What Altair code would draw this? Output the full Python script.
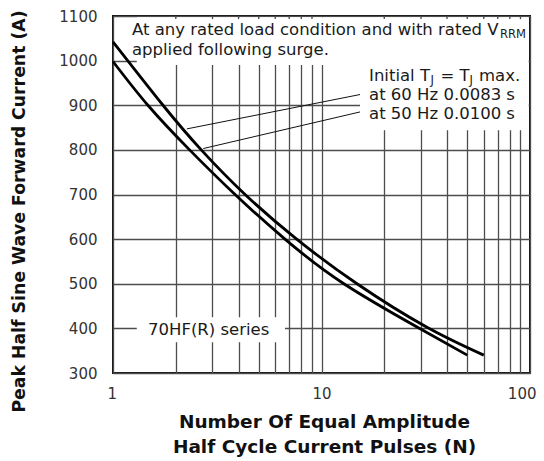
import altair as alt
import pandas as pd

# ---- data ----
n_60hz = [1, 1.737, 2.65, 4.3, 7.6, 14.8, 31.9, 60]
a_60hz = [1042, 900, 800, 700, 600, 500, 403, 340]
n_50hz = [1, 1.47, 2.33, 3.85, 6.68, 12.8, 29, 50]
a_50hz = [998, 900, 800, 700, 600, 500, 402, 340]

x_grid = [1, 2, 3, 4, 5, 6, 7, 8, 9, 10, 20, 30, 40, 50, 60, 70, 80, 90, 100]
x_labels = [1, 10, 100]
y_ticks = [300, 400, 500, 600, 700, 800, 900, 1000, 1100]
top_ticks = [2, 3, 4, 5, 6, 7, 8, 9, 20, 30, 40, 50, 60, 70, 80, 90]

FONT = "DejaVu Sans"

curves = pd.concat([
    pd.DataFrame({"N": n_60hz, "A": a_60hz, "s": "60 Hz"}),
    pd.DataFrame({"N": n_50hz, "A": a_50hz, "s": "50 Hz"}),
])

xscale = alt.Scale(type="log", domain=[1, 100], nice=False)
yscale = alt.Scale(domain=[300, 1100], nice=False, zero=False)

label_expr = "indexof(%s, datum.value) >= 0 ? datum.label : ''" % str(x_labels)

x_axis = alt.Axis(
    values=x_grid, labelExpr=label_expr, format="d", grid=True, ticks=False, tickSize=0,
    domain=False, labelPadding=13, labelFontSize=15, labelFont=FONT,
    labelColor="#333", labelFlush=True, labelFlushOffset=6,
    title=["Number Of Equal Amplitude", "Half Cycle Current Pulses (N)"],
    titleFont=FONT, titleFontSize=18.5, titleFontWeight="bold", titleColor="#111",
    titleX=211, titleY=39, titleBaseline="top", titleAlign="center",
    titleLineHeight=25, titleAnchor="middle")
y_axis = alt.Axis(
    values=y_ticks, format="d", grid=True, ticks=False, tickSize=0, domain=False,
    labelPadding=16, labelFontSize=15, labelFont=FONT, labelColor="#333",
    title="Peak Half Sine Wave Forward Current (A)",
    titleFont=FONT, titleFontSize=17.3, titleFontWeight="bold", titleColor="#111",
    titleX=-94, titleY=195, titleAngle=270, titleAlign="center",
    titleBaseline="middle")


def X():
    return alt.X("N:Q", scale=xscale, axis=x_axis)


def Y():
    return alt.Y("A:Q", scale=yscale, axis=y_axis)


# white masks behind annotation texts (in data coordinates)
masks = pd.DataFrame({
    "N": [1.30, 15.3, 1.30],
    "N2": [98.5, 98.5, 6.68],
    "A": [990, 844, 369],
    "A2": [1097, 990, 425],
})
mask_layer = alt.Chart(masks).mark_rect(color="white").encode(
    x=X(), x2="N2:Q", y=Y(), y2="A2:Q")

ticks_df = pd.DataFrame({"N": top_ticks, "A": [1100] * len(top_ticks), "A2": [1093] * len(top_ticks)})
tick_layer = alt.Chart(ticks_df).mark_rule(color="#4d4d4d", strokeWidth=1.3).encode(
    x=X(), y=Y(), y2="A2:Q")

curve_layer = alt.Chart(curves).mark_line(color="black", strokeWidth=2.8, interpolate="natural").encode(
    x=X(), y=Y(), detail="s:N")

leaders = pd.DataFrame({"N": [2.26, 2.71], "A": [847, 803], "N2": [15.3, 15.3], "A2": [924, 885]})
leader_layer = alt.Chart(leaders).mark_rule(color="#111", strokeWidth=1).encode(
    x=X(), y=Y(), x2="N2:Q", y2="A2:Q")

layers = [mask_layer, tick_layer, curve_layer, leader_layer]


def txt(n, a, pieces):
    out = []
    df = pd.DataFrame({"N": [n], "A": [a]})
    for text, dx, sub in pieces:
        out.append(alt.Chart(df).mark_text(
            text=text, align="left", baseline="alphabetic", font=FONT,
            fontSize=11.5 if sub else 16.5, dx=dx, dy=3 if sub else 0,
            color="#1a1a1a").encode(x=X(), y=Y()))
    return out


layers += txt(1.233, 1057, [("At any rated load condition and with rated V", 0, False), ("RRM", 368, True)])
layers += txt(1.233, 1012, [("applied following surge.", 0, False)])
layers += txt(16.9, 954, [("Initial T", 0, False), ("J", 61.5, True), ("= T", 71.5, False),
                          ("J", 100.5, True), ("max.", 110, False)])
layers += txt(16.9, 912, [("at 60 Hz 0.0083 s", 0, False)])
layers += txt(16.9, 869, [("at 50 Hz 0.0100 s", 0, False)])
layers += txt(1.472, 385, [("70HF(R) series", 0, False)])

chart = alt.layer(*layers).properties(
    width=417, height=357,
    autosize=alt.AutoSizeParams(type="none"),
    padding={"left": 105, "top": 8, "right": 6, "bottom": 85},
).configure_view(stroke="#111", strokeWidth=2).configure_axis(
    gridColor="#4d4d4d", gridWidth=1.3, gridOpacity=1)

chart.save("out.html", embed_options={"renderer": "svg", "actions": False})
